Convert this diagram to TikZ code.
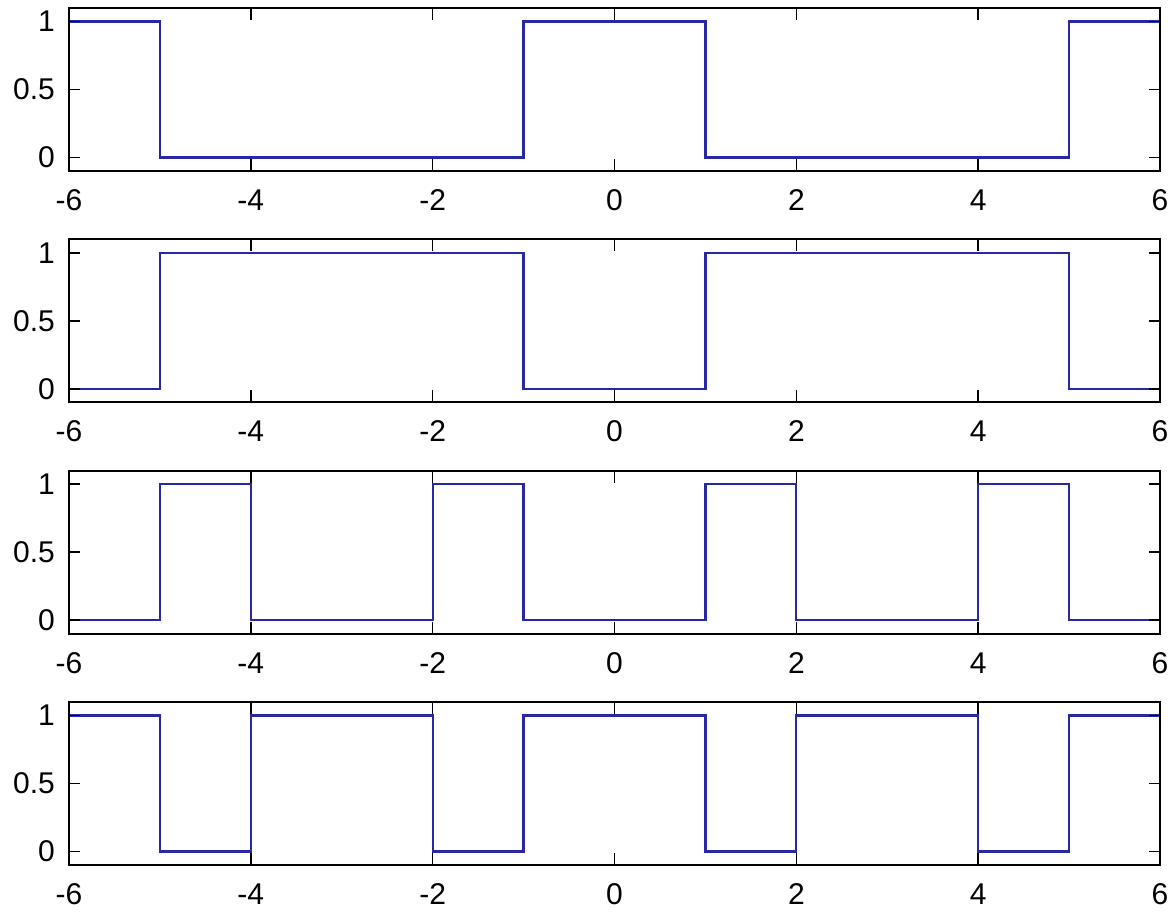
\documentclass[tikz,border=0pt]{standalone}
\usepackage{fontspec}
\setmainfont{Liberation Sans}
\definecolor{sigblue}{RGB}{40,40,165}
\tikzset{
  axbox/.style={draw=black,line width=1.8pt},
  sig/.style={draw=sigblue,line width=2.2pt,line join=miter},
  tickmark/.style={draw=black,line width=1.6pt},
  lab/.style={font=\fontsize{30}{30}\selectfont,inner sep=0pt}
}
\newcommand{\panelaxes}[1]{%
  \draw[axbox] (-6,-0.1) rectangle (6,1.1);
  \foreach \v in {-6,-4,-2,0,2,4,6}{
    \draw[tickmark] (\v,-0.1) -- ++(0,12pt);
    \draw[tickmark] (\v,1.1) -- ++(0,-12pt);
    \node[lab] (#1x\v) at ([yshift=-29pt]\v,-0.1) {\v};
  }
  \foreach \v/\t in {0/0,0.5/0.5,1/1}{
    \draw[tickmark] (-6,\v) -- ++(11pt,0);
    \draw[tickmark] (6,\v) -- ++(-11pt,0);
    \node[lab,anchor=east] (#1y\t) at ([xshift=-14pt]-6,\v) {\t};
  }
}
\begin{document}
\begin{tikzpicture}
\useasboundingbox[fill=white] (0,0) rectangle (1175pt,913pt);
% panel 1
\begin{scope}[shift={(614.5pt,{913pt-171pt+13.58pt})},x=90.917pt,y=135.83pt]
  \draw[sig] (-6,1) -- (-5,1) -- (-5,0) -- (-1,0) -- (-1,1) -- (1,1) -- (1,0) -- (5,0) -- (5,1) -- (6,1);
  \panelaxes{a}
\end{scope}
% panel 2
\begin{scope}[shift={(614.5pt,{913pt-402.3pt+13.58pt})},x=90.917pt,y=135.83pt]
  \draw[sig] (-6,0) -- (-5,0) -- (-5,1) -- (-1,1) -- (-1,0) -- (1,0) -- (1,1) -- (5,1) -- (5,0) -- (6,0);
  \panelaxes{b}
\end{scope}
% panel 3
\begin{scope}[shift={(614.5pt,{913pt-633.7pt+13.58pt})},x=90.917pt,y=135.83pt]
  \draw[sig] (-6,0) -- (-5,0) -- (-5,1) -- (-4,1) -- (-4,0) -- (-2,0) -- (-2,1) -- (-1,1) -- (-1,0) -- (1,0) -- (1,1) -- (2,1) -- (2,0) -- (4,0) -- (4,1) -- (5,1) -- (5,0) -- (6,0);
  \panelaxes{c}
\end{scope}
% panel 4
\begin{scope}[shift={(614.5pt,{913pt-865pt+13.58pt})},x=90.917pt,y=135.83pt]
  \draw[sig] (-6,1) -- (-5,1) -- (-5,0) -- (-4,0) -- (-4,1) -- (-2,1) -- (-2,0) -- (-1,0) -- (-1,1) -- (1,1) -- (1,0) -- (2,0) -- (2,1) -- (4,1) -- (4,0) -- (5,0) -- (5,1) -- (6,1);
  \panelaxes{d}
\end{scope}
\end{tikzpicture}
\end{document}
